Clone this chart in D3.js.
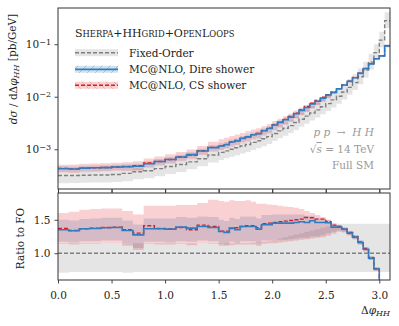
<!DOCTYPE html>
<html><head><meta charset="utf-8">
<script src="https://cdn.jsdelivr.net/npm/d3@7"></script>
<style>body{margin:0;background:#fff;} svg{display:block;} svg text{font-family:"DejaVu Serif","Liberation Serif",serif !important;}</style>
</head><body>
<svg id="c" width="399" height="326"></svg>
<script>
// bin edges in Δφ_HH
const binEdges = [0,0.1,0.2,0.3,0.4,0.5,0.6,0.7,0.8,0.9,1.0,1.1,1.2,1.3,1.4,1.5,
  1.55,1.6,1.65,1.7,1.75,1.8,1.85,1.9,1.95,2.0,2.05,2.1,2.15,2.2,2.25,2.3,2.35,2.4,2.45,2.5,
  2.55,2.6,2.65,2.7,2.75,2.8,2.85,2.9,2.95,3.0,3.05,3.1];
// Fixed-order dσ/dΔφ [pb/GeV]
const foValues = [3.16e-4,3.16e-4,3.20e-4,3.24e-4,3.24e-4,3.31e-4,3.47e-4,3.72e-4,3.89e-4,4.27e-4,4.68e-4,5.13e-4,5.75e-4,6.61e-4,7.76e-4,
  8.71e-4,9.33e-4,1.00e-3,1.07e-3,1.15e-3,1.23e-3,1.35e-3,1.45e-3,1.58e-3,1.74e-3,2.00e-3,2.24e-3,2.51e-3,2.82e-3,3.24e-3,3.72e-3,
  4.27e-3,4.90e-3,5.62e-3,6.46e-3,7.41e-3,8.71e-3,1.02e-2,1.23e-2,1.51e-2,1.86e-2,2.40e-2,3.24e-2,4.57e-2,6.92e-2,1.20e-1,2.82e-1];
const foBandLo = [0.71,0.72,0.72,0.72,0.72,0.72,0.71,0.72,0.72,0.72,0.72,0.72,0.72,0.72,0.72,
  0.72,0.72,0.72,0.72,0.72,0.72,0.72,0.72,0.72,0.72,0.72,0.72,0.72,0.72,0.72,0.72,
  0.72,0.72,0.72,0.72,0.72,0.72,0.72,0.72,0.72,0.72,0.72,0.72,0.72,0.72,0.72,0.72];
const foBandHi = [1.15,1.15,1.15,1.15,1.15,1.15,1.15,1.15,1.15,1.15,1.15,1.15,1.15,1.15,1.15,
  1.15,1.15,1.15,1.15,1.15,1.15,1.16,1.16,1.17,1.18,1.20,1.22,1.24,1.26,1.28,1.30,
  1.32,1.34,1.36,1.38,1.40,1.42,1.44,1.44,1.44,1.44,1.44,1.44,1.44,1.44,1.44,1.44];
// MC@NLO Dire shower, ratio to FO
const direRatio = [1.35,1.335,1.365,1.37,1.38,1.385,1.34,1.275,1.365,1.365,1.36,1.39,1.375,1.40,1.385,
  1.325,1.31,1.375,1.35,1.40,1.40,1.40,1.36,1.425,1.425,1.45,1.45,1.45,1.45,1.46,1.47,
  1.46,1.485,1.46,1.46,1.455,1.39,1.39,1.36,1.30,1.24,1.16,1.06,0.925,0.765,0.5,0.33];
const direBandLo = [1.17,1.16,1.18,1.18,1.19,1.19,1.15,1.08,1.17,1.17,1.16,1.18,1.17,1.19,1.18,
  1.14,1.13,1.17,1.15,1.18,1.18,1.18,1.15,1.19,1.19,1.20,1.20,1.20,1.21,1.22,1.23,
  1.23,1.25,1.25,1.27,1.30,1.32,1.34,1.32,1.27,1.21,1.13,1.03,0.90,0.74,0.48,0.31];
const direBandHi = [1.50,1.49,1.51,1.52,1.53,1.53,1.49,1.43,1.52,1.52,1.52,1.54,1.53,1.55,1.54,
  1.50,1.48,1.53,1.51,1.55,1.55,1.55,1.52,1.57,1.57,1.58,1.58,1.58,1.58,1.58,1.58,
  1.56,1.56,1.53,1.52,1.50,1.43,1.42,1.39,1.33,1.27,1.19,1.09,0.95,0.79,0.52,0.35];
// MC@NLO CS shower, ratio to FO
const csRatio = [1.37,1.34,1.365,1.375,1.385,1.39,1.35,1.30,1.41,1.37,1.365,1.385,1.35,1.42,1.40,
  1.33,1.33,1.37,1.38,1.40,1.41,1.41,1.38,1.44,1.45,1.46,1.47,1.48,1.49,1.50,1.51,
  1.535,1.53,1.51,1.51,1.47,1.42,1.40,1.36,1.31,1.25,1.17,1.07,0.935,0.77,0.5,0.33];
const csBandLo = [1.14,1.13,1.14,1.14,1.15,1.15,1.11,1.05,1.14,1.13,1.13,1.14,1.12,1.15,1.14,
  1.11,1.11,1.12,1.13,1.13,1.13,1.13,1.11,1.14,1.15,1.15,1.16,1.17,1.18,1.19,1.20,
  1.21,1.22,1.23,1.24,1.26,1.29,1.32,1.31,1.27,1.21,1.13,1.03,0.90,0.74,0.48,0.31];
const csBandHi = [1.60,1.62,1.65,1.66,1.67,1.67,1.63,1.58,1.71,1.71,1.71,1.72,1.72,1.75,1.80,
  1.78,1.77,1.79,1.78,1.78,1.79,1.77,1.74,1.74,1.73,1.72,1.71,1.70,1.69,1.68,1.66,
  1.63,1.60,1.57,1.54,1.50,1.45,1.42,1.38,1.33,1.27,1.19,1.09,0.96,0.79,0.52,0.35];

const xTicks = [0,0.5,1.0,1.5,2.0,2.5,3.0];
const xTickLabels = ["0.0","0.5","1.0","1.5","2.0","2.5","3.0"];
const yMainTicks = [1e-3,1e-2,1e-1];
const yMainTickExp = ["−3","−2","−1"];
const yRatioTicks = [1.0,1.5];
const yRatioTickLabels = ["1.0","1.5"];
// legend title pieces: [text, isSmallCap]
const legendTitleParts = [["S",0],["herpa",1],["+HH",0],["grid",1],["+O",0],["pen",1],["L",0],["oops",1]];
const legendLabels = ["Fixed-Order","MC@NLO, Dire shower","MC@NLO, CS shower"];

const C = {fo:"#808080", foBand:"rgba(190,190,190,0.4)", dire:"#2f7cc0", direBand:"rgba(31,119,180,0.2)", cs:"#e3191c", csBand:"rgba(228,26,28,0.2)", axis:"#333"};
const FS = "10.5px";

const svg = d3.select("#c");
const L=58, R=390, T1=8, B1=189, T2=193, B2=280;
const x = d3.scaleLinear().domain([0,3.1]).range([L,R]);
const y1 = d3.scaleLog().domain([1.75e-4,0.49]).range([B1,T1]);
const y2 = d3.scaleLinear().domain([0.6,1.9]).range([B2,T2]);

const defs = svg.append("defs");
defs.append("clipPath").attr("id","cp1").append("rect").attr("x",L).attr("y",T1).attr("width",R-L).attr("height",B1-T1);
defs.append("clipPath").attr("id","cp2").append("rect").attr("x",L).attr("y",T2).attr("width",R-L).attr("height",B2-T2);
function hatch(id, color, dir){
  const p = defs.append("pattern").attr("id",id).attr("patternUnits","userSpaceOnUse").attr("width",8).attr("height",8);
  p.append("path").attr("d", dir>0 ? "M0,8 L8,0 M-2,2 L2,-2 M6,10 L10,6" : "M0,0 L8,8 M-2,6 L2,10 M6,-2 L10,2")
   .attr("stroke",color).attr("stroke-width",0.8).attr("fill","none");
}
hatch("hd","rgba(120,150,190,0.7)",1);
hatch("hc","rgba(200,150,150,0.7)",-1);

function steps(vals){ const pts = vals.map((v,i)=>({x:binEdges[i], v})); pts.push({x:binEdges[binEdges.length-1], v:vals[vals.length-1]}); return pts; }
function bandPts(lo,hi){ const pts = lo.map((v,i)=>({x:binEdges[i], lo:v, hi:hi[i]})); pts.push({x:binEdges[binEdges.length-1], lo:lo[lo.length-1], hi:hi[hi.length-1]}); return pts; }
const mul = (a,b)=>a.map((v,i)=>v*b[i]);

// ---- main panel ----
const g1 = svg.append("g").attr("clip-path","url(#cp1)");
const area1 = d3.area().curve(d3.curveStepAfter).x(d=>x(d.x)).y0(d=>y1(d.lo)).y1(d=>y1(d.hi));
const line1 = d3.line().curve(d3.curveStepAfter).x(d=>x(d.x)).y(d=>y1(d.v));
g1.append("path").attr("d",area1(bandPts(mul(foValues,foBandLo),mul(foValues,foBandHi)))).attr("fill",C.foBand);
g1.append("path").attr("d",area1(bandPts(mul(foValues,direBandLo),mul(foValues,direBandHi)))).attr("fill",C.direBand);
g1.append("path").attr("d",area1(bandPts(mul(foValues,csBandLo),mul(foValues,csBandHi)))).attr("fill",C.csBand);
g1.append("path").attr("d",line1(steps(foValues))).attr("fill","none").attr("stroke",C.fo).attr("stroke-width",1.4).attr("stroke-dasharray","4,2");
g1.append("path").attr("d",line1(steps(mul(foValues,csRatio)))).attr("fill","none").attr("stroke",C.cs).attr("stroke-width",1.4).attr("stroke-dasharray","4,2");
g1.append("path").attr("d",line1(steps(mul(foValues,direRatio)))).attr("fill","none").attr("stroke",C.dire).attr("stroke-width",1.6);

// ---- ratio panel ----
const g2 = svg.append("g").attr("clip-path","url(#cp2)");
const area2 = d3.area().curve(d3.curveStepAfter).x(d=>x(d.x)).y0(d=>y2(d.lo)).y1(d=>y2(d.hi));
const line2 = d3.line().curve(d3.curveStepAfter).x(d=>x(d.x)).y(d=>y2(d.v));
g2.append("path").attr("d",area2(bandPts(foBandLo,foBandHi))).attr("fill",C.foBand);
g2.append("path").attr("d",area2(bandPts(direBandLo,direBandHi))).attr("fill",C.direBand);
g2.append("path").attr("d",area2(bandPts(csBandLo,csBandHi))).attr("fill",C.csBand);
g2.append("path").attr("d",line2(steps(foValues.map(()=>1)))).attr("fill","none").attr("stroke",C.fo).attr("stroke-width",1.4).attr("stroke-dasharray","4,2");
g2.append("path").attr("d",line2(steps(csRatio))).attr("fill","none").attr("stroke",C.cs).attr("stroke-width",1.4).attr("stroke-dasharray","4,2");
g2.append("path").attr("d",line2(steps(direRatio))).attr("fill","none").attr("stroke",C.dire).attr("stroke-width",1.6);

// ---- axes ----
const tk = 3.5;
function styleAxis(g){ g.selectAll(".domain").remove(); g.selectAll(".tick line").attr("stroke",C.axis).attr("stroke-width",0.9); g.selectAll("text").attr("fill","#222").style("font-size",FS); }
svg.append("g").attr("transform",`translate(0,${B1})`).call(d3.axisBottom(x).tickValues(xTicks).tickSize(tk).tickFormat("")).call(styleAxis);
svg.append("g").attr("transform",`translate(0,${T2})`).call(d3.axisTop(x).tickValues(xTicks).tickSize(tk).tickFormat("")).call(styleAxis);
svg.append("g").attr("transform",`translate(0,${B2})`).call(d3.axisBottom(x).tickValues(xTicks).tickSize(tk).tickPadding(8).tickFormat((d,i)=>xTickLabels[i])).call(styleAxis);
svg.append("g").attr("transform",`translate(${L},0)`).call(d3.axisLeft(y2).tickValues(yRatioTicks).tickSize(tk).tickPadding(4).tickFormat((d,i)=>yRatioTickLabels[i])).call(styleAxis);
const ax1 = svg.append("g").attr("transform",`translate(${L},0)`).call(d3.axisLeft(y1).tickValues(yMainTicks).tickSize(tk).tickPadding(4).tickFormat("")).call(styleAxis);
ax1.selectAll(".tick").each(function(d,i){
  const t = d3.select(this).select("text").text(null).attr("x",-7).attr("dy","0.35em").attr("text-anchor","end");
  t.append("tspan").text("10");
  t.append("tspan").attr("dy","-0.45em").style("font-size","8px").text(yMainTickExp[i]);
});

// frames
svg.append("rect").attr("x",L).attr("y",T1).attr("width",R-L).attr("height",B1-T1).attr("fill","none").attr("stroke",C.axis).attr("stroke-width",1);
svg.append("rect").attr("x",L).attr("y",T2).attr("width",R-L).attr("height",B2-T2).attr("fill","none").attr("stroke",C.axis).attr("stroke-width",1);

// axis labels
const yl = svg.append("text").attr("transform","translate(17,69) rotate(-90)").attr("text-anchor","middle").style("font-size",FS).attr("fill","#222");
yl.append("tspan").attr("font-style","italic").text("dσ");
yl.append("tspan").text(" / dΔ");
yl.append("tspan").attr("font-style","italic").text("φ");
yl.append("tspan").attr("font-style","italic").style("font-size","8px").attr("dy","0.3em").text("HH");
yl.append("tspan").attr("dy","-0.3em").text(" [pb/GeV]");
svg.append("text").attr("transform",`translate(24,${(T2+B2)/2+2}) rotate(-90)`).attr("text-anchor","middle").style("font-size",FS).attr("fill","#222").text("Ratio to FO");
const xl = svg.append("text").attr("x",R).attr("y",314).attr("text-anchor","end").style("font-size",FS).attr("fill","#222");
xl.append("tspan").text("Δ");
xl.append("tspan").attr("font-style","italic").text("φ");
xl.append("tspan").attr("font-style","italic").style("font-size","8px").attr("dy","0.3em").text("HH");

// legend
const lt = svg.append("text").attr("x",75).attr("y",37).attr("fill","#222");
legendTitleParts.forEach(([s,sc])=>{ lt.append("tspan").style("font-size", sc ? "8.4px" : "11px").text(sc ? s.toUpperCase() : s); });
const legY = [52.7,69.3,85.3];
const legStyles = [
  {band:C.foBand, hatch:null, col:C.fo, dash:"4,2"},
  {band:C.direBand, hatch:"url(#hd)", col:C.dire, dash:null},
  {band:C.csBand, hatch:"url(#hc)", col:C.cs, dash:"4,2"}];
legendLabels.forEach((lab,i)=>{
  const s = legStyles[i], yy = legY[i];
  svg.append("rect").attr("x",75).attr("y",yy-3.5).attr("width",43).attr("height",7).attr("fill",s.band);
  if(s.hatch) svg.append("rect").attr("x",75).attr("y",yy-3.5).attr("width",43).attr("height",7).attr("fill",s.hatch);
  svg.append("line").attr("x1",75).attr("x2",118).attr("y1",yy).attr("y2",yy).attr("stroke",s.col).attr("stroke-width",s.dash?1.4:1.8).attr("stroke-dasharray",s.dash);
  svg.append("text").attr("x",129).attr("y",yy+4).style("font-size",FS).attr("fill","#222").text(lab);
});

// annotation
const ann = svg.append("g").attr("fill","#999").attr("text-anchor","end");
ann.append("text").attr("x",374).attr("y",136).style("font-size",FS).attr("font-style","italic").attr("xml:space","preserve").text("p p  →  H H");
const t2 = ann.append("text").attr("x",374).attr("y",153).style("font-size",FS);
t2.append("tspan").text("√");
t2.append("tspan").attr("font-style","italic").style("text-decoration","overline").text("s");
t2.append("tspan").text(" = 14 TeV");
ann.append("text").attr("x",374).attr("y",169).style("font-size",FS).text("Full SM");
</script>
</body></html>
